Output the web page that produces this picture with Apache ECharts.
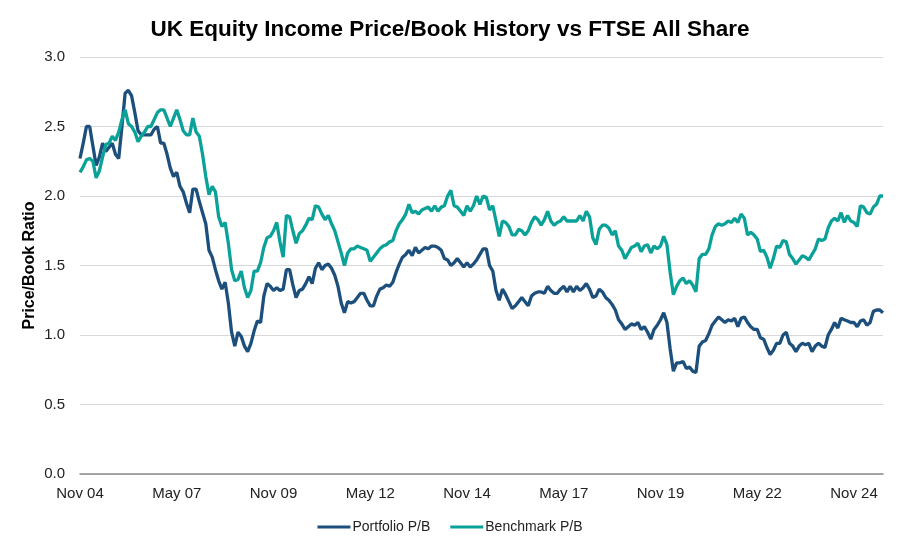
<!DOCTYPE html>
<html>
<head>
<meta charset="utf-8">
<script src="https://cdn.jsdelivr.net/npm/echarts@6/dist/echarts.min.js"></script>
<style>
  html, body { margin: 0; padding: 0; background: #fff; }
  #chart { width: 900px; height: 548px; }
</style>
</head>
<body>
<div id="chart"></div>
<script>
// Monthly P/B ratios, Nov 2004 onwards
const portfolio = [
  2.27, 2.38, 2.50, 2.50, 2.36, 2.22, 2.28, 2.38, 2.32, 2.35,
  2.38, 2.30, 2.27, 2.50, 2.74, 2.76, 2.72, 2.60, 2.47, 2.44,
  2.44, 2.44, 2.44, 2.48, 2.50, 2.38, 2.38, 2.30, 2.20, 2.14,
  2.17, 2.07, 2.03, 1.95, 1.88, 2.05, 2.05, 1.96, 1.88, 1.80,
  1.61, 1.56, 1.47, 1.39, 1.33, 1.38, 1.23, 1.02, 0.92, 1.02,
  0.99, 0.92, 0.88, 0.94, 1.03, 1.10, 1.09, 1.28, 1.37, 1.35,
  1.32, 1.34, 1.32, 1.33, 1.47, 1.47, 1.36, 1.27, 1.32, 1.33,
  1.37, 1.42, 1.37, 1.48, 1.52, 1.47, 1.50, 1.51, 1.48, 1.43,
  1.35, 1.23, 1.16, 1.24, 1.23, 1.24, 1.27, 1.30, 1.30, 1.25,
  1.21, 1.21, 1.28, 1.33, 1.34, 1.36, 1.35, 1.38, 1.45, 1.51,
  1.56, 1.58, 1.61, 1.57, 1.63, 1.59, 1.61, 1.63, 1.62, 1.64,
  1.64, 1.63, 1.61, 1.55, 1.54, 1.50, 1.52, 1.55, 1.52, 1.49,
  1.52, 1.49, 1.51, 1.54, 1.58, 1.62, 1.62, 1.50, 1.46, 1.32,
  1.25, 1.33, 1.29, 1.24, 1.19, 1.21, 1.24, 1.27, 1.24, 1.21,
  1.28, 1.30, 1.31, 1.31, 1.30, 1.35, 1.32, 1.30, 1.30, 1.33,
  1.35, 1.31, 1.35, 1.31, 1.35, 1.32, 1.34, 1.37, 1.33, 1.27,
  1.28, 1.33, 1.31, 1.27, 1.25, 1.22, 1.18, 1.11, 1.08, 1.04,
  1.06, 1.08, 1.07, 1.09, 1.04, 1.06, 1.02, 0.97, 1.04, 1.07,
  1.11, 1.16, 1.09, 0.90, 0.74, 0.80, 0.80, 0.81, 0.76, 0.77,
  0.74, 0.73, 0.92, 0.95, 0.96, 1.01, 1.07, 1.10, 1.13, 1.11,
  1.09, 1.11, 1.10, 1.12, 1.06, 1.12, 1.13, 1.09, 1.06, 1.04,
  1.04, 0.98, 0.97, 0.91, 0.86, 0.89, 0.94, 0.94, 1.00, 1.02,
  0.94, 0.92, 0.88, 0.92, 0.94, 0.93, 0.94, 0.88, 0.92, 0.94,
  0.92, 0.91, 1.00, 1.04, 1.09, 1.05, 1.12, 1.11, 1.10, 1.09,
  1.09, 1.06, 1.10, 1.11, 1.07, 1.09, 1.17, 1.18, 1.18, 1.16
]

const benchmark = [
  2.17, 2.21, 2.26, 2.27, 2.25, 2.13, 2.18, 2.28, 2.37, 2.38,
  2.43, 2.40, 2.46, 2.55, 2.62, 2.52, 2.50, 2.46, 2.39, 2.43,
  2.46, 2.50, 2.50, 2.55, 2.60, 2.62, 2.62, 2.56, 2.50, 2.56,
  2.62, 2.55, 2.47, 2.44, 2.44, 2.56, 2.46, 2.43, 2.30, 2.14,
  2.01, 2.07, 2.03, 1.85, 1.78, 1.81, 1.66, 1.47, 1.39, 1.40,
  1.46, 1.34, 1.27, 1.32, 1.46, 1.46, 1.52, 1.63, 1.70, 1.71,
  1.75, 1.81, 1.67, 1.56, 1.86, 1.85, 1.75, 1.66, 1.73, 1.75,
  1.79, 1.84, 1.83, 1.93, 1.92, 1.87, 1.83, 1.86, 1.80, 1.75,
  1.67, 1.59, 1.50, 1.59, 1.62, 1.62, 1.64, 1.63, 1.62, 1.61,
  1.53, 1.56, 1.59, 1.62, 1.64, 1.65, 1.67, 1.68, 1.75, 1.80,
  1.83, 1.87, 1.94, 1.88, 1.89, 1.87, 1.90, 1.91, 1.92, 1.89,
  1.93, 1.89, 1.92, 1.93, 2.00, 2.04, 1.93, 1.92, 1.89, 1.86,
  1.93, 1.89, 1.93, 2.00, 1.94, 2.00, 1.99, 1.90, 1.93, 1.82,
  1.71, 1.82, 1.81, 1.78, 1.72, 1.72, 1.76, 1.75, 1.72, 1.75,
  1.81, 1.85, 1.83, 1.79, 1.83, 1.89, 1.82, 1.79, 1.81, 1.82,
  1.85, 1.82, 1.82, 1.82, 1.82, 1.86, 1.82, 1.89, 1.85, 1.70,
  1.65, 1.76, 1.79, 1.79, 1.77, 1.72, 1.75, 1.64, 1.61, 1.55,
  1.59, 1.63, 1.64, 1.66, 1.60, 1.64, 1.65, 1.59, 1.64, 1.62,
  1.64, 1.71, 1.65, 1.45, 1.29, 1.35, 1.39, 1.41, 1.37, 1.39,
  1.36, 1.31, 1.55, 1.58, 1.58, 1.62, 1.72, 1.78, 1.80, 1.79,
  1.80, 1.82, 1.81, 1.84, 1.81, 1.87, 1.84, 1.72, 1.74, 1.72,
  1.69, 1.60, 1.61, 1.56, 1.48, 1.55, 1.64, 1.63, 1.68, 1.67,
  1.58, 1.55, 1.51, 1.54, 1.57, 1.56, 1.54, 1.58, 1.62, 1.69,
  1.68, 1.69, 1.77, 1.82, 1.84, 1.82, 1.88, 1.81, 1.86, 1.82,
  1.81, 1.78, 1.93, 1.92, 1.88, 1.87, 1.92, 1.94, 2.00, 2.00
]

const tickLabels = ["Nov 04", "May 07", "Nov 09", "May 12", "Nov 14", "May 17", "Nov 19", "May 22", "Nov 24"]

// month labels, starting Nov 2004
const MONTHS = ["Jan", "Feb", "Mar", "Apr", "May", "Jun", "Jul", "Aug", "Sep", "Oct", "Nov", "Dec"]
const categories = portfolio.map((_, k) => {
  const m = (10 + k) % 12
  const y = 2004 + Math.floor((10 + k) / 12)
  return MONTHS[m] + " " + String(y % 100).padStart(2, "0")
})

const FONT = "'Liberation Sans', Arial, sans-serif"
const BLUE = "#1c4f7c"
const TEAL = "#0aa199"

const chart = echarts.init(document.getElementById("chart"), null, { renderer: "canvas" })

chart.setOption({
  backgroundColor: "#fff",
  animation: false,
  title: {
    text: "UK Equity Income Price/Book History vs FTSE All Share",
    left: "center",
    top: 13,
    textStyle: { color: "#000", fontSize: 22.5, fontWeight: "bold", fontFamily: FONT },
  },
  legend: {
    bottom: 9,
    left: "center",
    icon: "rect",
    itemWidth: 33,
    itemHeight: 3,
    itemGap: 20,
    textStyle: { color: "#222", fontSize: 14, fontFamily: FONT, padding: [0, 0, 0, -3] },
    data: ["Portfolio P/B", "Benchmark P/B"],
  },
  grid: { top: 57, right: 17, bottom: 74, left: 80 },
  xAxis: {
    type: "category",
    data: categories,
    boundaryGap: false,
    axisLine: { lineStyle: { color: "#8c8c8c", width: 1.5 } },
    axisTick: { show: false },
    axisLabel: {
      color: "#222",
      fontSize: 15,
      fontFamily: FONT,
      margin: 12,
      interval: (idx, val) => tickLabels.includes(val),
    },
    splitLine: { show: false },
  },
  yAxis: {
    type: "value",
    min: 0,
    max: 3,
    interval: 0.5,
    name: "Price/Book Ratio",
    nameLocation: "middle",
    nameGap: 42,
    nameMoveOverlap: false,
    nameTextStyle: { color: "#000", fontSize: 16, fontWeight: "bold", fontFamily: FONT },
    axisLine: { show: false },
    axisTick: { show: false },
    axisLabel: {
      color: "#222",
      fontSize: 15,
      fontFamily: FONT,
      margin: 15,
      formatter: (v) => v.toFixed(1),
    },
    splitLine: { lineStyle: { color: "#d9d9d9", width: 1.2 } },
  },
  series: [
    {
      name: "Portfolio P/B",
      type: "line",
      data: portfolio,
      symbol: "none",
      lineStyle: { color: BLUE, width: 3.3 },
      itemStyle: { color: BLUE },
    },
    {
      name: "Benchmark P/B",
      type: "line",
      data: benchmark,
      symbol: "none",
      lineStyle: { color: TEAL, width: 3.3 },
      itemStyle: { color: TEAL },
    },
  ],
})
</script>
</body>
</html>
